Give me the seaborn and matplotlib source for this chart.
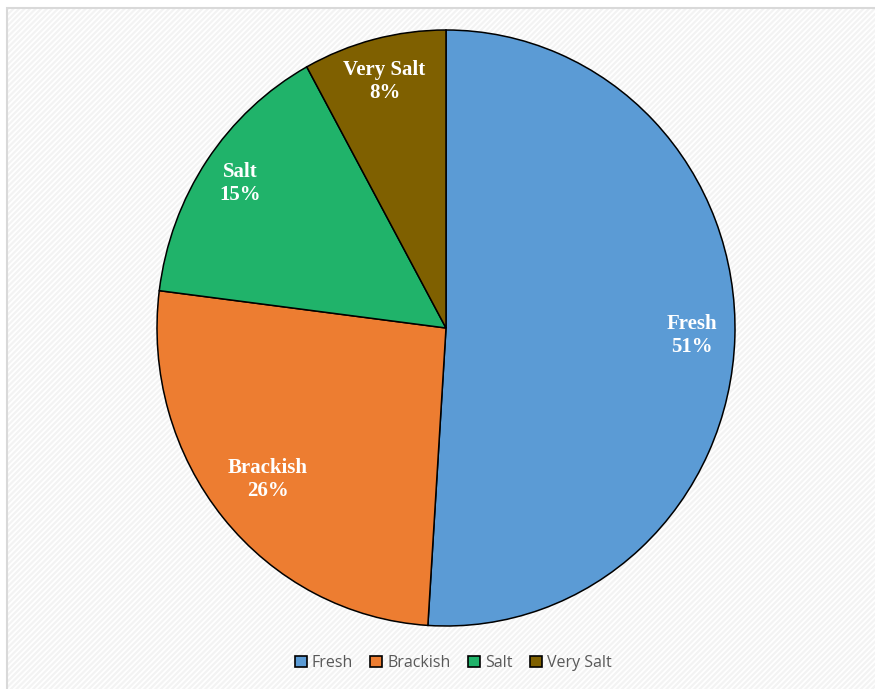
import numpy as np
import matplotlib
matplotlib.use("Agg")
import matplotlib.pyplot as plt
import seaborn as sns
from matplotlib.patches import Rectangle, Patch

categories = ["Fresh", "Brackish", "Salt", "Very Salt"]
values = [51, 26, 15, 8]
colors = ["#5B9BD5", "#ED7D31", "#20B36A", "#7F6000"]
label_dist = [0.85, 0.80, 0.86, 0.855]

sns.set_style("white")
plt.rcParams["hatch.linewidth"] = 1.6

W, H = 875, 689
fig = plt.figure(figsize=(W / 100, H / 100), dpi=100)
fig.patch.set_facecolor("white")

# hatched chart area with light border (top/left visible)
bg = Rectangle((7 / W, 0), 1 - 7 / W + 0.01, 1 - 8 / H, transform=fig.transFigure,
               facecolor="white", edgecolor="#f3f3f3", hatch="//////", lw=0, zorder=0)
fig.add_artist(bg)
border = Rectangle((7 / W, -0.01), 1, 1 - 8 / H + 0.01, transform=fig.transFigure,
                   facecolor="none", edgecolor="#d9d9d9", lw=1.5, zorder=1)
fig.add_artist(border)

cx, cy = 446, H - 328
rx, ry = 289, 298
ax = fig.add_axes([(cx - rx) / W, (cy - ry) / H, 2 * rx / W, 2 * ry / H])
ax.set_facecolor("none")
wedges, _ = ax.pie(values, colors=colors, startangle=90, counterclock=False,
                   wedgeprops=dict(edgecolor="black", linewidth=1.1))
ax.set_aspect("auto")
ax.set_xlim(-1, 1)
ax.set_ylim(-1, 1)
ax.axis("off")

for w, cat, v, d in zip(wedges, categories, values, label_dist):
    ang = np.deg2rad((w.theta1 + w.theta2) / 2)
    ax.text(d * np.cos(ang), d * np.sin(ang), f"{cat}\n{v}%", ha="center", va="center",
            color="white", fontsize=15, fontweight="bold",
            family=["Liberation Serif", "DejaVu Serif"], linespacing=1.2)

handles = [Patch(facecolor=c, edgecolor="black", lw=1.2) for c in colors]
leg = fig.legend(handles, categories, loc="center", bbox_to_anchor=(453 / W, 1 - 663 / H),
                 ncol=4, frameon=False, handlelength=0.75, handleheight=0.75,
                 handletextpad=0.3, columnspacing=1.1,
                 prop={"family": ["Open Sans", "DejaVu Sans"], "size": 11.5})
for t in leg.get_texts():
    t.set_color("#595959")

fig.savefig("out.png", dpi=100)
